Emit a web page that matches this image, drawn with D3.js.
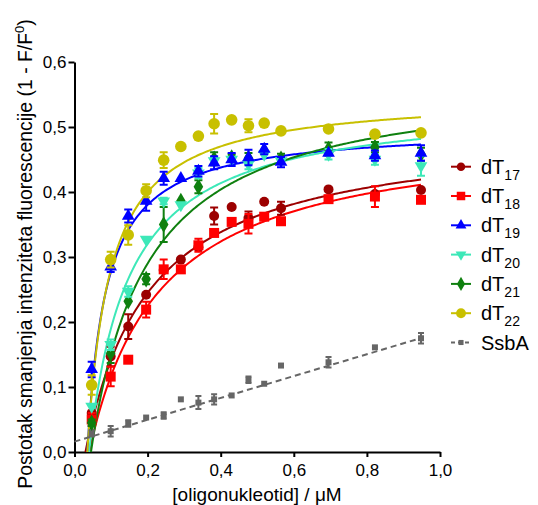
<!DOCTYPE html>
<html>
<head>
<meta charset="utf-8">
<script src="https://cdn.jsdelivr.net/npm/d3@7"></script>
<style>
  body { margin: 0; background: #fff; }
  text { font-family: "Liberation Sans", Arial, sans-serif; }
</style>
</head>
<body>
<div id="main"></div>
<script>
// concentrations (uM) shared by all series
var concentrations = [0.047, 0.099, 0.147, 0.196, 0.244, 0.291, 0.339, 0.382, 0.43, 0.476, 0.519, 0.565, 0.695, 0.822, 0.948];

var seriesNames = ['17', '18', '19', '20', '21', '22', 'SsbA'];

var dT17 = [0.06, 0.147, 0.193, 0.242, 0.28, 0.296, 0.315, 0.363, 0.377, 0.36, 0.385, 0.375, 0.404, 0.397, 0.403];
var dT18 = [0.05, 0.116, 0.142, 0.219, 0.281, 0.281, 0.318, 0.337, 0.354, 0.351, 0.362, 0.355, 0.389, 0.393, 0.388];
var dT19 = [0.127, 0.285, 0.363, 0.386, 0.421, 0.421, 0.432, 0.445, 0.45, 0.453, 0.466, 0.446, 0.46, 0.456, 0.46];
var dT20 = [0.07, 0.165, 0.247, 0.327, 0.386, 0.38, 0.429, 0.448, 0.45, 0.443, 0.458, 0.448, 0.458, 0.45, 0.44];
var dT21 = [0.045, 0.152, 0.232, 0.266, 0.35, 0.386, 0.408, 0.451, 0.453, 0.452, 0.463, 0.451, 0.466, 0.469, 0.458];
var dT22 = [0.103, 0.296, 0.334, 0.402, 0.449, 0.47, 0.486, 0.505, 0.511, 0.502, 0.506, 0.494, 0.497, 0.489, 0.491];
var ssbA = [0.029, 0.032, 0.044, 0.053, 0.056, 0.081, 0.076, 0.081, 0.087, 0.111, 0.105, 0.133, 0.138, 0.161, 0.175];

// standard errors (0 = bar hidden behind the marker)
var err17 = [0, 0.015, 0.019, 0, 0, 0, 0, 0.013, 0, 0.01, 0, 0.01, 0, 0, 0];
var err18 = [0.01, 0.015, 0, 0.012, 0.015, 0, 0.01, 0, 0, 0.015, 0, 0, 0, 0.016, 0];
var err19 = [0.012, 0.008, 0.01, 0.015, 0.01, 0, 0.008, 0.01, 0.01, 0.012, 0.008, 0.008, 0, 0.008, 0.012];
var err20 = [0, 0.008, 0.008, 0, 0.005, 0, 0.008, 0.005, 0, 0.008, 0, 0, 0.008, 0.008, 0.015];
var err21 = [0.005, 0.015, 0, 0.008, 0.027, 0, 0.01, 0.01, 0.005, 0.008, 0, 0.008, 0.01, 0.008, 0.01];
var err22 = [0.015, 0.012, 0.015, 0.01, 0.012, 0, 0, 0.015, 0, 0.01, 0, 0, 0, 0, 0];
var errSsbA = [0.005, 0.008, 0.005, 0, 0.005, 0, 0.01, 0.008, 0, 0.005, 0, 0, 0.008, 0, 0.008];

// hyperbolic fits  y = Bmax*(x-x0)/(Kd+x-x0) ; SsbA is a straight line
var fitBmax = [0.5, 0.5, 0.5, 0.54, 0.58, 0.55];
var fitKd = [0.177, 0.196, 0.052, 0.11, 0.155, 0.062];
var fitX0 = [0.03, 0.04, 0.035, 0.04, 0.045, 0.035];
var ssbaIntercept = 0.016, ssbaSlope = 0.168;

var xTicks = [0, 0.2, 0.4, 0.6, 0.8, 1.0];
var yTicks = [0, 0.1, 0.2, 0.3, 0.4, 0.5, 0.6];

var colors = ['#9c0000', '#ff0000', '#0000ff', '#3de8b8', '#0f800f', '#c8c000', '#666666'];
var shapes = ['circle', 'square', 'up', 'down', 'diamond', 'bigcircle', 'small'];

var values = [dT17, dT18, dT19, dT20, dT21, dT22, ssbA];
var errors = [err17, err18, err19, err20, err21, err22, errSsbA];

var svgWidth = 538, svgHeight = 505;

var svg = d3.select('#main').append('svg')
	.attr('width', svgWidth)
	.attr('height', svgHeight);

var x = d3.scaleLinear().domain([0, 1]).range([74.5, 440]);
var y = d3.scaleLinear().domain([0, 0.6]).range([452, 62]);

var comma = function(d){ return d3.format('.1f')(d).replace('.', ','); };

// axes
var gx = svg.append('g')
	.attr('transform', 'translate(0,452)')
	.call(d3.axisBottom(x).tickValues(xTicks).tickFormat(comma).tickSize(5).tickSizeOuter(0));
var gy = svg.append('g')
	.attr('transform', 'translate(74.5,0)')
	.call(d3.axisLeft(y).tickValues(yTicks).tickFormat(comma).tickSize(6).tickSizeOuter(0));

[gx, gy].forEach(function(g){
	g.select('.domain').attr('stroke', '#000').attr('stroke-width', 2);
	g.selectAll('.tick line').attr('stroke', '#000').attr('stroke-width', 2);
	g.selectAll('.tick text').attr('fill', '#000').style('font-size', '17px')
		.style('font-family', '"Liberation Sans", Arial, sans-serif');
});
gx.selectAll('.tick text').attr('dy', '0.95em');
gy.selectAll('.tick text').attr('x', -8);

// axis titles
svg.append('text')
	.attr('x', 257).attr('y', 501)
	.attr('text-anchor', 'middle')
	.style('font-size', '19px')
	.text('[oligonukleotid] / \u03bcM');

var yTitle = svg.append('text')
	.attr('transform', 'translate(32,254) rotate(-90)')
	.attr('text-anchor', 'middle')
	.style('font-size', '19.4px');
yTitle.append('tspan').text('Postotak smanjenja intenziteta fluorescencije (1 - F/F');
yTitle.append('tspan').attr('dy', -8).style('font-size', '13px').text('0');
yTitle.append('tspan').attr('dy', 8).text(')');

// marker drawing
function drawMarker(g, shape, color, scale){
	scale = scale || 1;
	if(shape == 'circle'){
		g.append('circle').attr('r', 5 * scale).attr('fill', color);
	}else if(shape == 'bigcircle'){
		g.append('circle').attr('r', 5.8 * scale).attr('fill', color);
	}else if(shape == 'square'){
		g.append('path').attr('d', d3.symbol(d3.symbolSquare, 100 * scale * scale)()).attr('fill', color);
	}else if(shape == 'small'){
		g.append('path').attr('d', d3.symbol(d3.symbolSquare, 36 * scale * scale)()).attr('fill', color);
	}else if(shape == 'up'){
		g.append('path').attr('d', d3.symbol(d3.symbolTriangle, 70 * scale * scale)()).attr('fill', color);
	}else if(shape == 'down'){
		g.append('path').attr('d', d3.symbol(d3.symbolTriangle, 70 * scale * scale)())
			.attr('transform', 'rotate(180)').attr('fill', color);
	}else if(shape == 'diamond'){
		g.append('path').attr('d', d3.symbol(d3.symbolDiamond, 80 * scale * scale)()).attr('fill', color);
	}
}

// fitted curves
var plot = svg.append('g');
var line = d3.line().x(function(d){ return x(d[0]); }).y(function(d){ return y(d[1]); });

var xEnd = concentrations[concentrations.length - 1];
for(var i = 0; i < 6; i++){
	var pts = [];
	for(var k = 0; k <= 200; k++){
		var xv = fitX0[i] + (xEnd - fitX0[i]) * k / 200;
		var t = xv - fitX0[i];
		pts.push([xv, fitBmax[i] * t / (fitKd[i] + t)]);
	}
	plot.append('path')
		.attr('d', line(pts))
		.attr('fill', 'none')
		.attr('stroke', colors[i])
		.attr('stroke-width', 2);
}
plot.append('path')
	.attr('d', line([[0, ssbaIntercept], [xEnd, ssbaIntercept + ssbaSlope * xEnd]]))
	.attr('fill', 'none')
	.attr('stroke', colors[6])
	.attr('stroke-width', 2)
	.attr('stroke-dasharray', '6,4');

// points with error bars (SsbA first so coloured series sit on top)
[6, 0, 1, 4, 3, 2, 5].forEach(function(s){
	var g = plot.append('g');
	concentrations.forEach(function(c, j){
		var v = values[s][j], e = errors[s][j];
		var cx = x(c);
		if(e > 0){
			var w = s == 6 ? 3 : 4;
			g.append('path')
				.attr('d', 'M' + cx + ',' + y(v - e) + 'V' + y(v + e)
					+ 'M' + (cx - w) + ',' + y(v - e) + 'H' + (cx + w)
					+ 'M' + (cx - w) + ',' + y(v + e) + 'H' + (cx + w))
				.attr('stroke', colors[s])
				.attr('stroke-width', 2)
				.attr('fill', 'none');
		}
		var m = g.append('g').attr('transform', 'translate(' + cx + ',' + y(v) + ')');
		drawMarker(m, shapes[s], colors[s]);
	});
});

// legend
var legend = svg.append('g');
seriesNames.forEach(function(name, i){
	var ly = 166.7 + i * 29.3;
	var row = legend.append('g').attr('transform', 'translate(0,' + ly + ')');
	row.append('line')
		.attr('x1', 451).attr('x2', 471)
		.attr('stroke', colors[i])
		.attr('stroke-width', 2)
		.attr('stroke-dasharray', i == 6 ? '4,3' : null);
	var m = row.append('g').attr('transform', 'translate(461,0)');
	drawMarker(m, shapes[i], colors[i], 0.85);
	var t = row.append('text')
		.attr('x', 481).attr('y', 7)
		.style('font-size', '20px');
	if(i < 6){
		t.append('tspan').text('dT');
		t.append('tspan').attr('dy', 6).style('font-size', '14px').text(name);
	}else{
		t.text(name);
	}
});
</script>
</body>
</html>
